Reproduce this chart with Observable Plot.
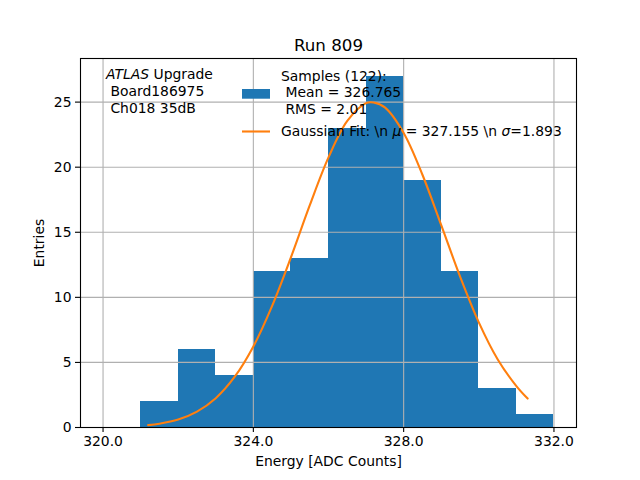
<!DOCTYPE html>
<html><head><meta charset="utf-8">
<script src="https://cdn.jsdelivr.net/npm/d3@7"></script>
<script src="https://cdn.jsdelivr.net/npm/@observablehq/plot@0.6"></script>
<style>body{margin:0;background:#fff}</style>
</head><body><div id="chart"></div>
<script>
// Histogram bins (lower edges) and counts
const binStarts = [321, 322, 323, 324, 325, 326, 327, 328, 329, 330, 331];
const counts = [2, 6, 4, 12, 13, 23, 27, 19, 12, 3, 1];
const binWidth = 1;
// Gaussian fit curve
const fitX = [321.2, 321.5, 322, 322.5, 323, 323.5, 324, 324.5, 325, 325.5, 326, 326.5, 327, 327.2, 327.5, 328, 328.5, 329, 329.5, 330, 330.5, 331, 331.3];
const fitY = [0.18, 0.29, 0.61, 1.22, 2.25, 3.88, 6.23, 9.35, 13.07, 17.06, 20.75, 23.55, 24.92, 24.97, 24.59, 22.63, 19.42, 15.55, 11.61, 8.08, 5.25, 3.18, 2.22];
const xTicks = [320, 324, 328, 332];
const yTicks = [0, 5, 10, 15, 20, 25];
const title = "Run 809";
const xLabel = "Energy [ADC Counts]";
const yLabel = "Entries";
const infoLines = [" Board186975", " Ch018 35dB"];
const sampleLines = ["Samples (122):", " Mean = 326.765", " RMS = 2.01"];

const bins = binStarts.map((s, i) => ({x1: s, x2: s + binWidth, y: counts[i]}));
const fit = fitX.map((x, i) => ({x, y: fitY[i]}));

const font = "DejaVu Sans";
const plot = Plot.plot({
  width: 640, height: 480,
  marginLeft: 80, marginRight: 64, marginTop: 58, marginBottom: 53,
  style: {fontFamily: font, fontSize: "13.9px", color: "#000", background: "#fff"},
  x: {domain: [319.4, 332.6]},
  y: {domain: [0, 28.35]},
  marks: [
    Plot.rectY(bins, {x1: "x1", x2: "x2", y: "y", fill: "#1f77b4", shapeRendering: "crispEdges"}),
    Plot.gridX(xTicks, {stroke: "#b0b0b0", strokeOpacity: 1, strokeWidth: 1.1}),
    Plot.gridY(yTicks, {stroke: "#b0b0b0", strokeOpacity: 1, strokeWidth: 1.1}),
    Plot.line(fit, {x: "x", y: "y", stroke: "#ff7f0e", strokeWidth: 2.1, curve: "catmull-rom"}),
    Plot.frame({stroke: "#000", strokeWidth: 1.1}),
    Plot.axisX(xTicks, {tickFormat: d3.format(".1f"), tickSize: 5, tickPadding: 4, strokeWidth: 1.1,
      label: xLabel, labelAnchor: "center", labelArrow: "none", labelOffset: 38}),
    Plot.axisY(yTicks, {tickSize: 5, tickPadding: 4, strokeWidth: 1.1,
      label: yLabel, labelAnchor: "center", labelArrow: "none", labelOffset: 46}),
    Plot.text([title], {frameAnchor: "top", lineAnchor: "bottom", dy: -8, fontSize: 16.7, fill: "#000"})
  ]
});
document.getElementById("chart").appendChild(plot);

const svg = d3.select(plot);
const g = svg.append("g").attr("font-family", font).attr("font-size", "13.9px").attr("fill", "#000")
  .attr("text-anchor", "start").style("white-space", "pre");
// ATLAS annotation
const t0 = g.append("text").attr("x", 106).attr("y", 79);
t0.append("tspan").attr("font-style", "italic").text("ATLAS");
t0.append("tspan").text(" Upgrade");
infoLines.forEach((s, i) => g.append("text").attr("x", 106).attr("y", 96 + i * 16.5).text(s));
// Legend
g.append("rect").attr("x", 242).attr("y", 89).attr("width", 28).attr("height", 9.7).attr("fill", "#1f77b4");
sampleLines.forEach((s, i) => g.append("text").attr("x", 281).attr("y", 80.5 + i * 16.5).text(s));
g.append("line").attr("x1", 242).attr("x2", 270).attr("y1", 131.5).attr("y2", 131.5).attr("stroke", "#ff7f0e").attr("stroke-width", 2.1);
const t1 = g.append("text").attr("x", 281).attr("y", 136);
t1.append("tspan").text("Gaussian Fit: \\n ");
t1.append("tspan").attr("font-style", "italic").text("μ");
t1.append("tspan").text(" = 327.155 \\n ");
t1.append("tspan").attr("font-style", "italic").text("σ");
t1.append("tspan").text("=1.893");
</script>
</body></html>
